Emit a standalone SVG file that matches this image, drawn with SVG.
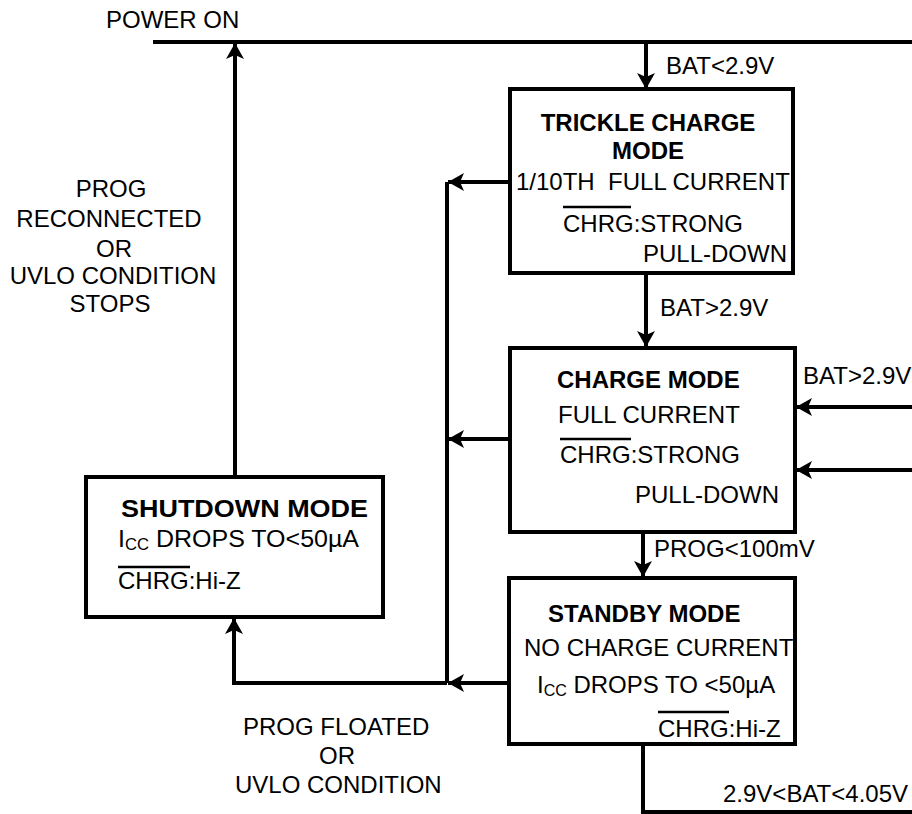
<svg xmlns="http://www.w3.org/2000/svg" width="912" height="814" viewBox="0 0 912 814">
<style>
text{font-family:"Liberation Sans",Arial,sans-serif;font-size:24px;fill:#000}
.b{font-weight:bold}
.box{fill:#fff;stroke:#000;stroke-width:4}
.ln{fill:none;stroke:#000;stroke-width:4}
.ov{stroke:#000;stroke-width:2.5}
.sub{font-size:16px}
</style>
<defs>
<marker id="ah" viewBox="0 0 16 18" refX="16" refY="9" markerWidth="16" markerHeight="18" markerUnits="userSpaceOnUse" orient="auto">
<path d="M0,0 L16,9 L0,18 L4,9 Z" fill="#000"/>
</marker>
</defs>
<rect width="912" height="814" fill="#fff"/>
<g id="connectors">
<path class="ln" d="M153,42 H912"/>
<path class="ln" d="M646,42 V89" marker-end="url(#ah)"/>
<path class="ln" d="M646,273 V347" marker-end="url(#ah)"/>
<path class="ln" d="M643,532 V577" marker-end="url(#ah)"/>
<path class="ln" d="M643,744 V812 H912"/>
<path class="ln" d="M912,407 H796" marker-end="url(#ah)"/>
<path class="ln" d="M912,470 H796" marker-end="url(#ah)"/>
<path class="ln" d="M447,182 V683"/>
<path class="ln" d="M510,182 H448" marker-end="url(#ah)"/>
<path class="ln" d="M510,439 H448" marker-end="url(#ah)"/>
<path class="ln" d="M510,683 H448" marker-end="url(#ah)"/>
<path class="ln" d="M447,683 H234 V618" marker-end="url(#ah)"/>
<path class="ln" d="M235,477 V43" marker-end="url(#ah)"/>
<text x="106" y="28">POWER ON</text>
<text x="666" y="74">BAT&lt;2.9V</text>
<text x="660" y="316">BAT&gt;2.9V</text>
<text x="803" y="384">BAT&gt;2.9V</text>
<text x="654" y="557">PROG&lt;100mV</text>
<text x="723" y="802">2.9V&lt;BAT&lt;4.05V</text>
<text x="111" y="197" text-anchor="middle">PROG</text>
<text x="109" y="227" text-anchor="middle">RECONNECTED</text>
<text x="114" y="257" text-anchor="middle">OR</text>
<text x="113" y="284" text-anchor="middle">UVLO CONDITION</text>
<text x="110" y="312" text-anchor="middle">STOPS</text>
<text x="243" y="735">PROG FLOATED</text>
<text x="319" y="764">OR</text>
<text x="235" y="793">UVLO CONDITION</text>
</g>
<g id="trickle">
<rect class="box" x="510" y="89" width="283" height="184"/>
<text class="b" x="648" y="131" text-anchor="middle">TRICKLE CHARGE</text>
<text class="b" x="648" y="159" text-anchor="middle">MODE</text>
<text x="516" y="190" xml:space="preserve">1/10TH  FULL CURRENT</text>
<line class="ov" x1="563" y1="207" x2="631" y2="207"/>
<text x="563" y="232">CHRG:STRONG</text>
<text x="787" y="262" text-anchor="end">PULL-DOWN</text>
</g>
<g id="charge">
<rect class="box" x="510" y="348" width="285" height="184"/>
<text class="b" x="557" y="388">CHARGE MODE</text>
<text x="558" y="423">FULL CURRENT</text>
<line class="ov" x1="560" y1="439" x2="631" y2="439"/>
<text x="560" y="463">CHRG:STRONG</text>
<text x="779" y="503" text-anchor="end">PULL-DOWN</text>
</g>
<g id="standby">
<rect class="box" x="509" y="578" width="286" height="166"/>
<text class="b" x="548" y="622">STANDBY MODE</text>
<text x="524" y="656">NO CHARGE CURRENT</text>
<text x="537" y="693">I<tspan class="sub" dy="3">CC</tspan><tspan dy="-3"> DROPS TO &lt;50µA</tspan></text>
<line class="ov" x1="658" y1="712" x2="729" y2="712"/>
<text x="658" y="737">CHRG:Hi-Z</text>
</g>
<g id="shutdown">
<rect class="box" x="86" y="477" width="297" height="140"/>
<text class="b" x="121" y="517" textLength="247" lengthAdjust="spacingAndGlyphs">SHUTDOWN MODE</text>
<text x="118" y="547" textLength="241" lengthAdjust="spacingAndGlyphs">I<tspan class="sub" dy="3">CC</tspan><tspan dy="-3"> DROPS TO&lt;50µA</tspan></text>
<line class="ov" x1="118" y1="567" x2="190" y2="567"/>
<text x="118" y="589">CHRG:Hi-Z</text>
</g>
</svg>
